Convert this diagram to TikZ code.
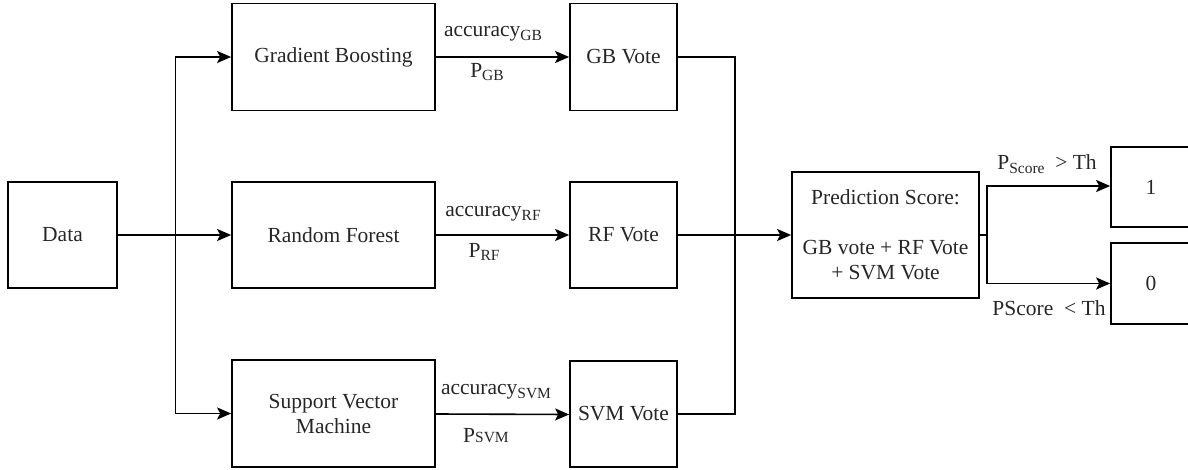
\documentclass[tikz,border=0pt]{standalone}
\usepackage{fontspec}
\setmainfont{Liberation Serif}
\usetikzlibrary{arrows.meta}
\newcommand{\sbs}[1]{\raisebox{-0.35ex}{\fontsize{15.5}{15.5}\selectfont #1}}
\begin{document}
\begin{tikzpicture}[x=1pt,y=-1pt,
  box/.style={draw,line width=1.7pt,rectangle,inner sep=0pt,align=center,font=\fontsize{21.5}{25}\selectfont,text=black!85},
  arr/.style={line width=1.6pt,-{Stealth[length=14pt,width=12pt,inset=3pt]}},
  ln/.style={line width=1.6pt},
  lbl/.style={font=\fontsize{21.5}{25}\selectfont,text=black!85,inner sep=0pt}]
\useasboundingbox (0,0) rectangle (1188,470);
\node[box,minimum width=109pt,minimum height=106pt] (data) at (62.5,235) {Data};
\node[box,minimum width=203pt,minimum height=107pt] (gb) at (333.5,57) {Gradient Boosting};
\node[box,minimum width=203pt,minimum height=106pt] (rf) at (333.5,235) {Random Forest};
\node[box,minimum width=203pt,minimum height=107pt] (svm) at (333.5,413.5) {Support Vector\\Machine};
\node[box,minimum width=107pt,minimum height=107pt] (gbv) at (623.5,57) {GB Vote};
\node[box,minimum width=107pt,minimum height=106pt] (rfv) at (623.5,235) {RF Vote};
\node[box,minimum width=107pt,minimum height=106pt] (svmv) at (623.5,414) {SVM Vote};
\node[box,minimum width=187pt,minimum height=126pt] (pred) at (885.5,235) {Prediction Score:\\[25pt]GB vote + RF Vote\\+ SVM Vote};
\node[box,minimum width=80pt,minimum height=80pt] (one) at (1151,187) {1};
\node[box,minimum width=80pt,minimum height=81pt] (zero) at (1151,283.5) {0};
\coordinate (jr) at (735,235);
% left fan-out
\draw[arr] (data.east) -- ++(57.5,0) |- (gb.west);
\draw[arr] (data.east) -- (rf.west);
\draw[arr] (data.east) -- ++(57.5,0) |- (svm.west);
% model to vote
\draw[arr] (gb) -- (gbv);
\draw[arr] (rf) -- (rfv);
\draw[arr] ([yshift=-0.5pt]svm.east) -- ([yshift=-0.5pt]svmv.west);
% votes to prediction
\draw[ln] (gbv.east) -| (jr);
\draw[ln] (svmv.east) -| (jr);
\draw[arr] (rfv) -- (pred);
% prediction to outputs
\draw[arr] (pred.east) -- ++(7,0) |- ([yshift=1pt]one.west);
\draw[arr] (pred.east) -- ++(7,0) |- (zero.west);
% labels
\node[lbl] (lgb1) at (493,34) {accuracy\sbs{GB}};
\node[lbl] (lgb2) at (487,72) {P\sbs{GB}};
\node[lbl] (lrf1) at (493,214) {accuracy\sbs{RF}};
\node[lbl] (lrf2) at (484,252) {P\sbs{RF}};
\node[lbl] (lsv1) at (496,392) {accuracy\sbs{SVM}};
\node[lbl] (lsv2) at (486,436) {P{\fontsize{15.5}{15.5}\selectfont SVM}};
\node[lbl] (lhi) at (1047,164) {P\sbs{Score} \ > Th};
\node[lbl] (llo) at (1049,308) {PScore \ < Th};
\end{tikzpicture}
\end{document}
